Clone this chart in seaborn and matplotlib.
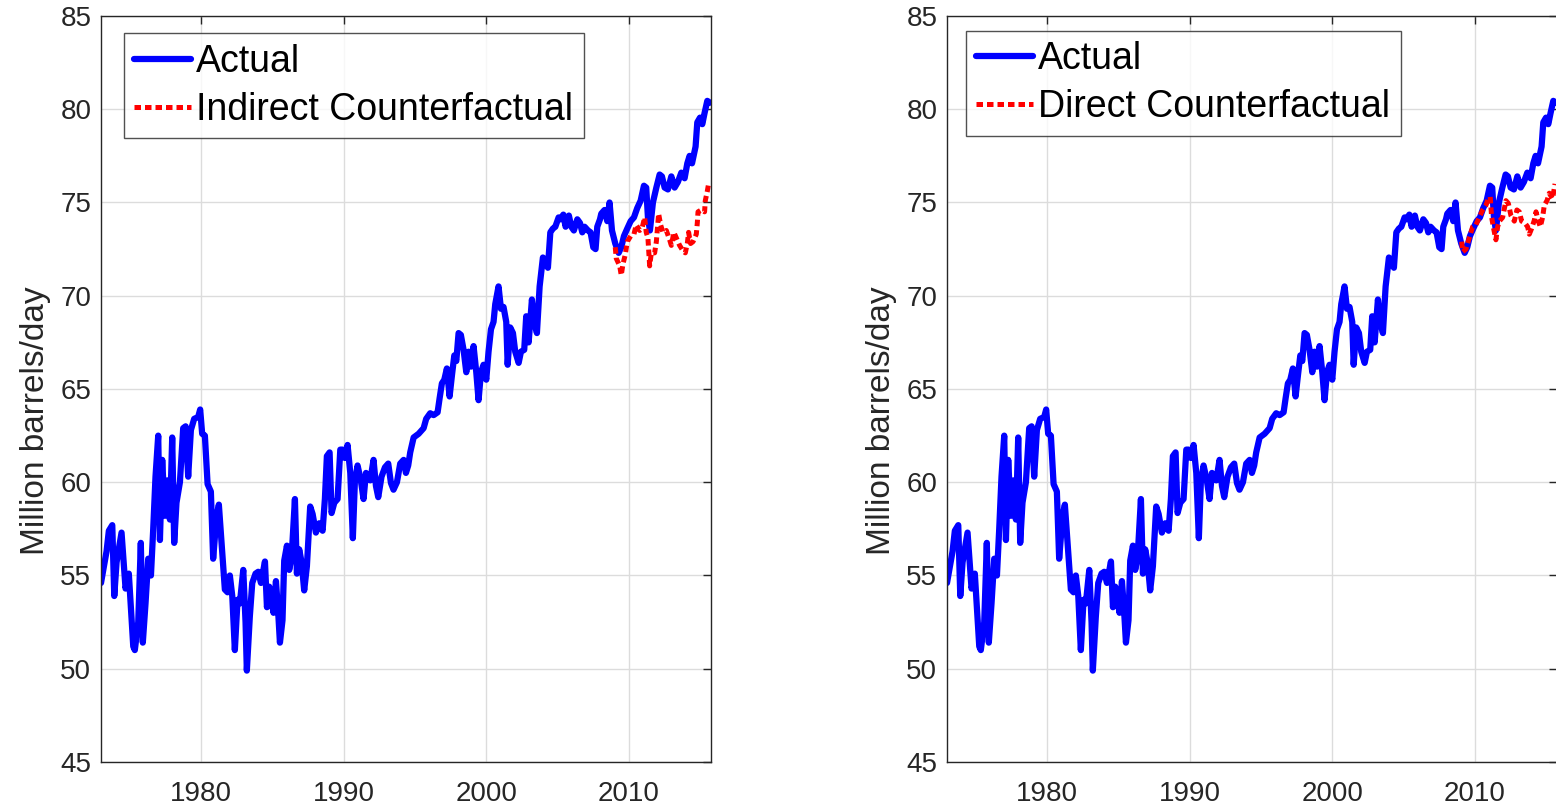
# Oil output: actual series vs two counterfactual paths (two panels)
import matplotlib
matplotlib.use("Agg")
import matplotlib.pyplot as plt
import seaborn as sns
import pandas as pd
import numpy as np

# Actual series (year, million barrels/day)
actual_years = [
    1973.00, 1973.39, 1973.55, 1973.79, 1973.93, 1974.09, 1974.44, 1974.72, 1974.95, 1975.26,
    1975.37, 1975.61, 1975.79, 1975.93, 1976.12, 1976.31, 1976.50, 1976.66, 1976.82, 1977.01,
    1977.13, 1977.29, 1977.48, 1977.66, 1977.83, 1977.99, 1978.13, 1978.29, 1978.53, 1978.76,
    1978.93, 1979.11, 1979.30, 1979.53, 1979.81, 1979.95, 1980.09, 1980.28, 1980.47, 1980.70,
    1980.86, 1981.10, 1981.26, 1981.45, 1981.68, 1981.87, 1982.03, 1982.20, 1982.38, 1982.57,
    1982.73, 1982.97, 1983.13, 1983.22, 1983.43, 1983.60, 1983.83, 1984.02, 1984.21,
    1984.49, 1984.63, 1984.79, 1984.95, 1985.09, 1985.26, 1985.42, 1985.54, 1985.72, 1985.84,
    1986.03, 1986.19, 1986.36, 1986.59, 1986.73, 1986.89, 1987.06, 1987.24, 1987.43, 1987.66,
    1987.83, 1988.06, 1988.29, 1988.53, 1988.69, 1988.83, 1989.02, 1989.16, 1989.35, 1989.58,
    1989.77, 1989.93, 1990.09, 1990.28, 1990.47, 1990.65, 1990.79, 1990.98, 1991.21, 1991.40,
    1991.57, 1991.87, 1992.10, 1992.27, 1992.43, 1992.66, 1992.90, 1993.13, 1993.32, 1993.50,
    1993.74, 1993.97, 1994.21, 1994.37, 1994.53, 1994.67,
    1994.91, 1995.26, 1995.61, 1995.79, 1996.07, 1996.31, 1996.59, 1996.73, 1996.89, 1997.06,
    1997.24, 1997.43, 1997.59, 1997.76, 1997.90, 1998.06, 1998.22, 1998.41, 1998.60, 1998.76,
    1998.93, 1999.11, 1999.30, 1999.46, 1999.63, 1999.81, 2000.00, 2000.16, 2000.33, 2000.51,
    2000.63, 2000.86, 2001.03, 2001.21, 2001.40, 2001.50, 2001.68, 2001.87, 2002.03, 2002.27,
    2002.43, 2002.66, 2002.80, 2002.97, 2003.20, 2003.36, 2003.55, 2003.74, 2003.97, 2004.14,
    2004.32, 2004.49, 2004.67, 2004.84, 2005.07,
    2005.21, 2005.40, 2005.56, 2005.79, 2005.96, 2006.14, 2006.38, 2006.57, 2006.73, 2006.89,
    2007.13, 2007.31, 2007.50, 2007.66, 2007.78, 2007.97,
    2008.06, 2008.29, 2008.48, 2008.64, 2008.81, 2009.04, 2009.28, 2009.46, 2009.65, 2009.88,
    2010.12, 2010.35, 2010.58, 2010.82, 2011.05, 2011.21, 2011.33, 2011.47, 2011.68, 2011.92,
    2012.15, 2012.31, 2012.50, 2012.73, 2012.97, 2013.20, 2013.43, 2013.67, 2013.90, 2014.09,
    2014.25, 2014.42, 2014.67, 2014.79, 2014.98, 2015.14, 2015.30, 2015.49, 2015.68,
]
actual_values = [
    54.6, 56.3, 57.4, 57.7, 53.9, 55.7, 57.3, 54.3, 55.1, 51.2,
    51.0, 52.5, 56.75, 51.4, 53.5, 55.9, 55.0, 57.5, 60.3, 62.5,
    56.9, 61.2, 58.2, 60.1, 58.0, 62.4, 56.75, 58.9, 60.0, 62.9,
    63.0, 60.3, 62.8, 63.4, 63.5, 63.9, 62.6, 62.5, 59.9, 59.5,
    55.9, 58.2, 58.8, 56.75, 54.25, 54.1, 55.0, 53.9, 51.0, 53.7,
    53.5, 55.3, 52.5, 49.9, 52.8, 54.6, 55.1, 55.2, 54.6,
    55.75, 53.3, 54.4, 53.7, 53.0, 54.7, 53.0, 51.4, 52.6, 55.8,
    56.6, 55.3, 56.0, 59.1, 55.1, 56.4, 55.7, 54.2, 55.5, 58.7,
    58.3, 57.3, 57.8, 57.4, 59.1, 61.4, 61.6, 58.35, 58.9, 59.1,
    61.75, 61.75, 61.3, 62.0, 60.5, 57.0, 60.0, 60.9, 60.1, 59.1,
    60.5, 60.1, 61.2, 59.8, 59.2, 60.3, 60.8, 61.0, 59.96, 59.6,
    60.0, 61.0, 61.2, 60.5, 60.9, 61.6,
    62.4, 62.6, 62.9, 63.4, 63.7, 63.6, 63.75, 64.5, 65.3, 65.5,
    66.1, 64.6, 65.7, 66.8, 66.5, 68.0, 67.9, 67.1, 65.9, 67.0,
    66.2, 67.3, 65.9, 64.4, 65.9, 66.3, 65.5, 67.0, 68.2, 68.6,
    69.55, 70.5, 69.3, 69.4, 68.6, 66.3, 68.3, 68.0, 67.0, 66.4,
    67.0, 67.1, 68.9, 67.5, 69.8, 68.6, 68.0, 70.5, 72.05, 71.9,
    71.5, 73.4, 73.6, 73.7, 74.2,
    74.1, 74.35, 73.7, 74.3, 73.7, 73.5, 74.1, 73.9, 73.4, 73.7,
    73.5, 73.4, 72.6, 72.5, 73.7, 74.1,
    74.4, 74.6, 74.0, 75.0, 73.5, 72.8, 72.3, 72.6, 73.2, 73.6,
    74.0, 74.2, 74.7, 75.1, 75.9, 75.8, 74.2, 73.5, 75.0, 75.8,
    76.5, 76.4, 75.8, 75.7, 76.4, 75.8, 76.1, 76.6, 76.3, 77.1,
    77.5, 77.1, 78.0, 79.3, 79.55, 79.2, 79.8, 80.45, 80.35,
]

# Indirect counterfactual (left panel)
indirect_years = [
    2009.04, 2009.11, 2009.35, 2009.46, 2009.58, 2009.74, 2009.88, 2010.12, 2010.35, 2010.51,
    2010.75, 2010.91, 2011.10, 2011.21, 2011.33, 2011.45, 2011.57, 2011.80, 2011.92, 2012.08,
    2012.22, 2012.38, 2012.62, 2012.85, 2012.97, 2013.15, 2013.32, 2013.55, 2013.79, 2013.95,
    2014.09, 2014.18, 2014.32, 2014.49, 2014.72, 2014.79, 2014.84, 2015.07, 2015.30, 2015.35,
    2015.49, 2015.58,
]
indirect_values = [
    72.6, 72.0, 71.6, 71.1, 71.7, 72.2, 72.9, 73.2, 73.3, 73.8,
    73.5, 73.6, 74.2, 73.4, 73.1, 71.6, 72.3, 72.3, 72.9, 74.4,
    73.8, 73.4, 73.5, 73.0, 72.7, 73.4, 73.1, 72.7, 72.4, 72.3,
    72.8, 73.4, 72.8, 72.9, 73.3, 73.9, 74.5, 74.6, 74.5, 75.1,
    75.6, 76.0,
]

# Direct counterfactual (right panel)
direct_years = [
    2009.07, 2009.14, 2009.37, 2009.60, 2009.84, 2010.07, 2010.30, 2010.54, 2010.77, 2010.93,
    2011.07, 2011.17, 2011.31, 2011.47, 2011.59, 2011.71, 2011.94, 2012.17, 2012.34, 2012.52,
    2012.76, 2012.94, 2013.11, 2013.27, 2013.50, 2013.69, 2013.81, 2013.97, 2014.16, 2014.28,
    2014.44, 2014.58, 2014.74, 2014.86, 2015.05, 2015.21, 2015.44, 2015.61,
]
direct_values = [
    72.9, 72.35, 72.5, 73.1, 73.7, 73.8, 74.2, 74.6, 74.85, 75.2,
    75.3, 74.2, 73.6, 73.0, 73.7, 74.0, 74.2, 75.1, 74.95, 74.3,
    74.0, 74.6, 74.5, 74.0, 73.9, 73.7, 73.3, 73.6, 74.05, 74.5,
    74.0, 73.7, 74.2, 74.85, 75.1, 75.5, 75.2, 76.0,
]

panel_labels = ["Indirect Counterfactual", "Direct Counterfactual"]
ylabel_text = "Million barrels/day"
x_ticks = [1980, 1990, 2000, 2010]
y_ticks = [45, 50, 55, 60, 65, 70, 75, 80, 85]

sns.set_style("white")
plt.rcParams['font.family'] = ['Liberation Sans', 'DejaVu Sans']

actual_df = pd.DataFrame({"year": actual_years, "value": actual_values})
counter_dfs = [pd.DataFrame({"year": indirect_years, "value": indirect_values}),
               pd.DataFrame({"year": direct_years, "value": direct_values})]

fig = plt.figure(figsize = (15.56, 8.08), dpi = 100)
W, H = 1556, 808
# axes boxes in pixels: left, top, right, bottom
boxes = [(101, 16, 711, 762), (947, 16, 1557, 762)]
legend_anchor = [(0.0377, 0.977), (0.031, 0.98)]
grey = '#262626'

for i, (l, t, r, b) in enumerate(boxes):
    ax = fig.add_axes([l / W, (H - b) / H, (r - l) / W, (b - t) / H])

    sns.lineplot(data = actual_df, x = "year", y = "value", ax = ax, color = '#0000ff',
                 linewidth = 4.5, label = "Actual", solid_joinstyle = 'round')
    sns.lineplot(data = counter_dfs[i], x = "year", y = "value", ax = ax, color = '#ff0000',
                 linewidth = 3.6, dashes = False, label = panel_labels[i])
    ax.lines[1].set_linestyle((0, (1.3, 0.8)))

    ax.set_xlim(1973.0, 2015.75)
    ax.set_ylim(45, 85)
    ax.set_xticks(x_ticks)
    ax.set_yticks(y_ticks)
    ax.grid(True, color = '#dcdcdc', linewidth = 1.0)
    ax.set_axisbelow(True)
    ax.tick_params(direction = 'in', length = 6, width = 1, colors = grey,
                   top = True, right = True, labelsize = 20)
    ax.tick_params(axis = 'x', pad = 14)
    ax.tick_params(axis = 'y', pad = 7)
    for s in ax.spines.values():
        s.set_color(grey)
        s.set_linewidth(1.0)

    ax.set_xlabel("")
    ax.set_ylabel(ylabel_text, fontsize = 24, color = grey)
    ax.yaxis.set_label_coords(-0.082, 0.457)

    leg = ax.legend(loc = 'upper left', bbox_to_anchor = legend_anchor[i], fontsize = 27,
                    frameon = True, fancybox = False, handlelength = 1.5, handletextpad = 0.15,
                    borderpad = 0.28, labelspacing = 0.32, borderaxespad = 0, labelcolor = 'black')
    leg.get_frame().set_edgecolor(grey)
    leg.get_frame().set_linewidth(1.0)

fig.savefig("out.png", dpi = 100)
